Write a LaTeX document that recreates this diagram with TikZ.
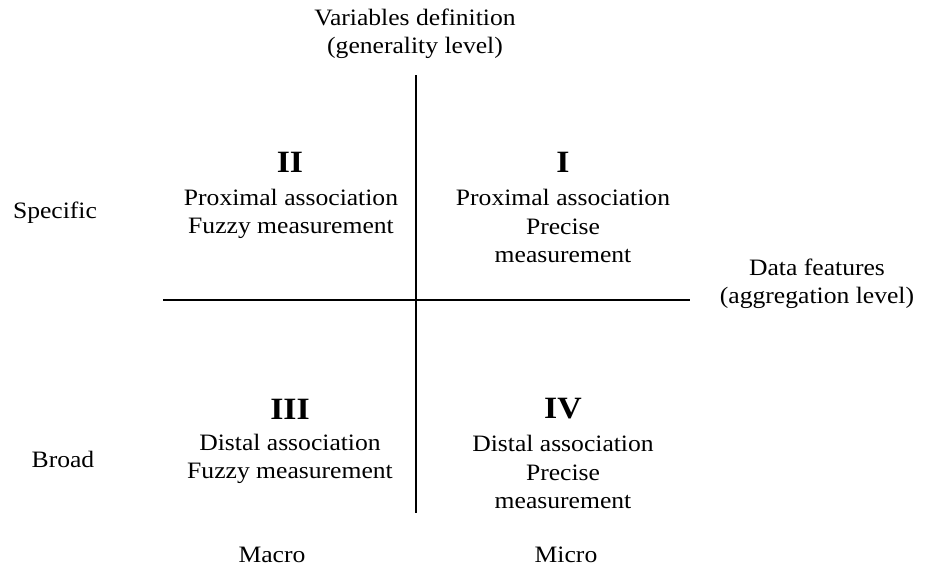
\documentclass[tikz,border=0pt]{standalone}
\usepackage{fontspec}
\setmainfont[FakeStretch=1.09]{Liberation Serif}
\begin{document}
\begin{tikzpicture}[x=1pt,y=-1pt,
  lbl/.style={align=center,inner sep=0pt,font=\fontsize{23.5}{28.5}\selectfont},
  num/.style={inner sep=0pt,font=\fontsize{31}{32}\selectfont\bfseries},
  axis/.style={line width=2.8pt}]
\useasboundingbox (0,0) rectangle (928,566);
\coordinate (vt) at (416,75);
\coordinate (vb) at (416,513);
\coordinate (hl) at (163,300);
\coordinate (hr) at (690,300);
\draw[axis] (vt) -- (vb);
\draw[axis] (hl) -- (hr);
\node[lbl] (vd) at (415,34) {Variables definition\\(generality level)};
\node[lbl] (df) at (817,284) {Data features\\(aggregation level)};
\node[num] (n2) at (290,162) {II};
\node[num] (n1) at (563,162) {I};
\node[num] (n3) at (290,409) {III};
\node[num] (n4) at (563,409) {IV};
\node[lbl] (t2) at (291,214) {Proximal association\\Fuzzy measurement};
\node[lbl] (t1) at (563,226) {Proximal association\\Precise\\measurement};
\node[lbl] (t3) at (290,459) {Distal association\\Fuzzy measurement};
\node[lbl] (t4) at (563,472) {Distal association\\Precise\\measurement};
\node[lbl] (sp) at (55,213) {Specific};
\node[lbl] (br) at (63,459) {Broad};
\node[lbl] (ma) at (272,555) {Macro};
\node[lbl] (mi) at (566,555) {Micro};
\end{tikzpicture}
\end{document}
